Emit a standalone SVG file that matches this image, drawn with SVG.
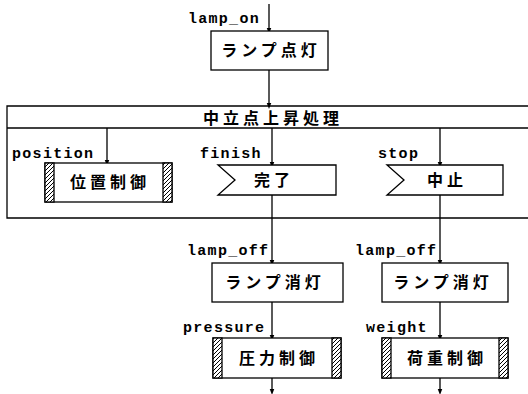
<svg xmlns="http://www.w3.org/2000/svg" width="528" height="394" viewBox="0 0 528 394">
<style>
.box{fill:#fff;stroke:#000;stroke-width:1.3}
.frame{fill:none;stroke:#000;stroke-width:1.3}
.hatch{fill:url(#hatch);stroke:#000;stroke-width:1.3}
.lbl{font-family:"Liberation Mono","DejaVu Sans Mono",monospace;font-weight:bold;font-size:15px;letter-spacing:1.3px;fill:#000}
.jp{font-family:"Noto Sans CJK JP","Noto Sans CJK SC",sans-serif;font-weight:bold;font-size:16px;letter-spacing:4px;fill:#000;text-anchor:middle}
.cn{stroke:#000;stroke-width:1.3;fill:none;marker-end:url(#arr)}
</style>
<defs>
<marker id="arr" markerUnits="userSpaceOnUse" markerWidth="6" markerHeight="9" refX="6" refY="4.5" orient="auto" viewBox="0 0 12 9">
<path d="M0,0 L12,4.5 L0,9 z" fill="#000"/>
</marker>
<pattern id="hatch" patternUnits="userSpaceOnUse" width="4" height="4">
<rect width="4" height="4" fill="#fff"/>
<path d="M-1,1 l2,-2 M0,4 l4,-4 M3,5 l2,-2" stroke="#000" stroke-width="1"/>
</pattern>
</defs>
<rect width="528" height="394" fill="#fff"/>

<g id="neutral_rise">
<path class="frame" d="M540,106 H7 V218 H540"/>
<line x1="7" y1="128" x2="540" y2="128" stroke="#000" stroke-width="1.3"/>
<text class="jp" x="273" y="124">中立点上昇処理</text>
</g>

<g id="connectors">
<line class="cn" x1="269" y1="4" x2="269" y2="31"/>
<line class="cn" x1="269" y1="70" x2="269" y2="106"/>
<line class="cn" x1="107" y1="128" x2="107" y2="163"/>
<line class="cn" x1="272" y1="128" x2="272" y2="165"/>
<line class="cn" x1="440" y1="128" x2="440" y2="165"/>
<line class="cn" x1="272" y1="195" x2="272" y2="263"/>
<line class="cn" x1="440" y1="195" x2="440" y2="263"/>
<line class="cn" x1="272" y1="302" x2="272" y2="338"/>
<line class="cn" x1="440" y1="302" x2="440" y2="338"/>
<line class="cn" x1="272" y1="378" x2="272" y2="392"/>
<line class="cn" x1="440" y1="378" x2="440" y2="392"/>
</g>

<g id="labels">
<text class="lbl" x="260" y="23" text-anchor="end">lamp_on</text>
<text class="lbl" x="12" y="158">position</text>
<text class="lbl" x="200" y="158">finish</text>
<text class="lbl" x="378" y="158">stop</text>
<text class="lbl" x="187" y="255">lamp_off</text>
<text class="lbl" x="355" y="255">lamp_off</text>
<text class="lbl" x="183" y="332">pressure</text>
<text class="lbl" x="366" y="332">weight</text>
</g>

<g id="lamp_on_box">
<rect class="box" x="211" y="31" width="117" height="39"/>
<text class="jp" x="271" y="56">ランプ点灯</text>
</g>

<g id="position_ctrl">
<rect class="box" x="45" y="163" width="127" height="39"/>
<rect class="hatch" x="45" y="163" width="9" height="39"/>
<rect class="hatch" x="163" y="163" width="9" height="39"/>
<text class="jp" x="110" y="188">位置制御</text>
</g>

<g id="finish_sig">
<path class="box" d="M218,165 H336 V195 H218 L235,180 Z"/>
<text class="jp" x="274" y="186">完了</text>
</g>

<g id="stop_sig">
<path class="box" d="M387,165 H503 V195 H387 L404,180 Z"/>
<text class="jp" x="447" y="186">中止</text>
</g>

<g id="lamp_off_1">
<rect class="box" x="212" y="263" width="131" height="39"/>
<text class="jp" x="275" y="288">ランプ消灯</text>
</g>

<g id="lamp_off_2">
<rect class="box" x="382" y="263" width="126" height="39"/>
<text class="jp" x="443" y="288">ランプ消灯</text>
</g>

<g id="pressure_ctrl">
<rect class="box" x="213" y="338" width="128" height="40"/>
<rect class="hatch" x="213" y="338" width="9" height="40"/>
<rect class="hatch" x="332" y="338" width="9" height="40"/>
<text class="jp" x="279" y="364">圧力制御</text>
</g>

<g id="weight_ctrl">
<rect class="box" x="382" y="338" width="126" height="40"/>
<rect class="hatch" x="382" y="338" width="9" height="40"/>
<rect class="hatch" x="499" y="338" width="9" height="40"/>
<text class="jp" x="447" y="364">荷重制御</text>
</g>
</svg>
